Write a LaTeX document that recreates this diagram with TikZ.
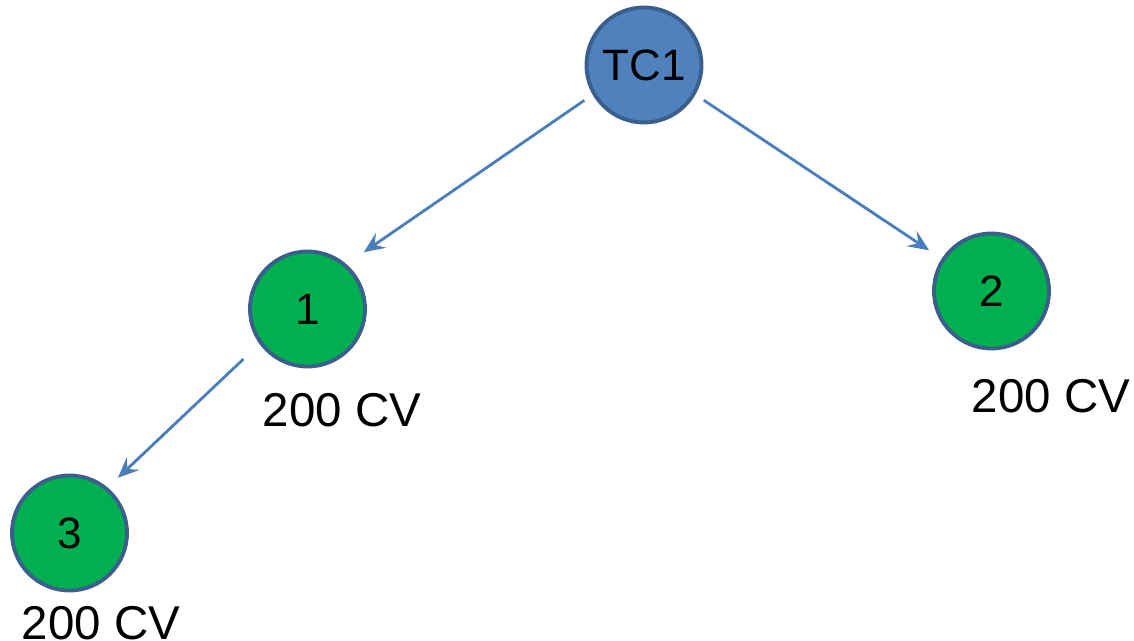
\documentclass[tikz,border=0pt]{standalone}
\usepackage{fontspec}
\setmainfont{Liberation Sans}
\usepackage{xcolor}
\usepackage{tikz}
\usetikzlibrary{arrows.meta, positioning}
\definecolor{tcblue}{HTML}{4F81BD}
\definecolor{rimblue}{HTML}{3A5F8C}
\definecolor{cvgreen}{HTML}{00B050}
\definecolor{arrblue}{HTML}{4A7EBB}

\begin{document}
\begin{tikzpicture}[
  tcnode/.style ={circle, draw=rimblue, line width=2.2pt, fill=tcblue,
                  minimum size=2.3cm, inner sep=0pt,
                  font=\fontsize{25}{30}\selectfont},
  cvnode/.style ={circle, draw=rimblue, line width=2.2pt, fill=cvgreen,
                  minimum size=2.3cm, inner sep=0pt,
                  font=\fontsize{25}{30}\selectfont},
  lbl/.style    ={anchor=base, inner sep=0pt, font=\fontsize{27}{32}\selectfont},
  arr/.style    ={-{Stealth[length=4.2mm,width=3.6mm,inset=1.6mm]}, draw=arrblue,
                  line width=1.6pt}
]
\useasboundingbox (0,0) rectangle (22.68,12.82);
% ---- Nodes -----------------------------------------------------------------
\node[tcnode] (tc1) at (12.88,11.52) {TC1};
\node[cvnode] (n1)  at (6.15,6.64)   {1};
\node[cvnode] (n2)  at (19.83,7.00)  {2};
\node[cvnode] (n3)  at (1.39,2.16)   {3};
% ---- Labels ----------------------------------------------------------------
\node[lbl] (lab1) at ([xshift=0.69cm, yshift=-2.36cm]n1.center) {200 CV};
\node[lbl] (lab2) at ([xshift=1.19cm, yshift=-2.44cm]n2.center) {200 CV};
\node[lbl] (lab3) at ([xshift=0.63cm, yshift=-2.14cm]n3.center) {200 CV};
% ---- Arrows ----------------------------------------------------------------
\draw[arr, shorten <=0.2cm, shorten >=0.42cm] (tc1.210) -- (n1.49);
\draw[arr, shorten <=0.2cm, shorten >=0.3cm]  (tc1.330) -- (n2.147);
\draw[arr, shorten <=0.44cm, shorten >=0.28cm] (n1.216) -- (n3.50);
\end{tikzpicture}
\end{document}
